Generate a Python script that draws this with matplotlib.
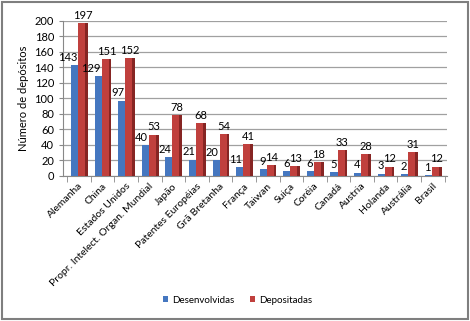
import matplotlib
matplotlib.use("Agg")
import matplotlib.pyplot as plt
import numpy as np
from matplotlib.patches import Rectangle

categories = ["Alemanha", "China", "Estados Unidos", "Propr. Intelect. Organ. Mundial",
              "Japão", "Patentes Européias", "Grã Bretanha", "França", "Taiwan", "Suiça",
              "Coréia", "Canadá", "Austria", "Holanda", "Austrália", "Brasil"]
desenvolvidas = [143, 129, 97, 40, 24, 21, 20, 11, 9, 6, 6, 5, 4, 3, 2, 1]
depositadas = [197, 151, 152, 53, 78, 68, 54, 41, 14, 13, 18, 33, 28, 12, 31, 12]
yticks = list(range(0, 201, 20))

plt.rcParams['font.family'] = ['Lato', 'DejaVu Sans']

fig = plt.figure(figsize=(4.70, 3.21), dpi=100)
fig.patches.append(Rectangle((0.004, 0.006), 0.992, 0.988, transform=fig.transFigure,
                             fill=False, edgecolor='#7f7f7f', linewidth=1.5))
ax = fig.add_axes([0.134, 0.452, 0.817, 0.483])

x = np.arange(len(categories))
w = 0.3
side = 0.11
blue = '#4577c0'
red = '#c0403d'
red_side = '#862523'
b1 = ax.bar(x, desenvolvidas, -w, align='edge', color=blue, linewidth=0, zorder=3)
b2 = ax.bar(x, depositadas, w, align='edge', color=red, linewidth=0, zorder=4)
ax.bar(x + w, depositadas, side, align='edge', color=red_side, linewidth=0, zorder=4)

for xi, v in zip(x, desenvolvidas):
    ax.text(xi - 0.04, v + 3, str(v), ha='right', va='bottom', fontsize=8, clip_on=False, zorder=5)
for xi, v in zip(x, depositadas):
    ax.text(xi + w / 2 + 0.05, v + 3, str(v), ha='center', va='bottom', fontsize=8, clip_on=False, zorder=5)

ax.set_ylim(0, 200)
ax.set_xlim(-0.64, len(categories) - 1 + 0.64)
ax.set_yticks(yticks)
ax.tick_params(axis='y', labelsize=8, length=3, color='#888888')
ax.grid(axis='y', color='#a0a0a0', linewidth=0.9, zorder=0)
ax.set_xticks(x)
ax.set_xticklabels(categories, rotation=45, ha='right', rotation_mode='anchor', fontsize=7.5)
ax.set_xticks(np.arange(-0.5, len(categories), 1) + 0.04, minor=True)
ax.tick_params(axis='x', which='major', length=0, pad=4)
ax.tick_params(axis='x', which='minor', length=4, color='#888888')
for s in ['top', 'right']:
    ax.spines[s].set_visible(False)
ax.spines['left'].set_color('#888888')
ax.spines['bottom'].set_color('#888888')
ax.set_ylabel('Número de depósitos', fontsize=8, labelpad=4)

fig.legend([b1, b2], ['Desenvolvidas', 'Depositadas'], loc='center', bbox_to_anchor=(0.505, 0.065),
           ncol=2, frameon=False, fontsize=7, handlelength=0.55, handleheight=0.55, columnspacing=1.6,
           handletextpad=0.4)

fig.savefig('out.png', dpi=100)
